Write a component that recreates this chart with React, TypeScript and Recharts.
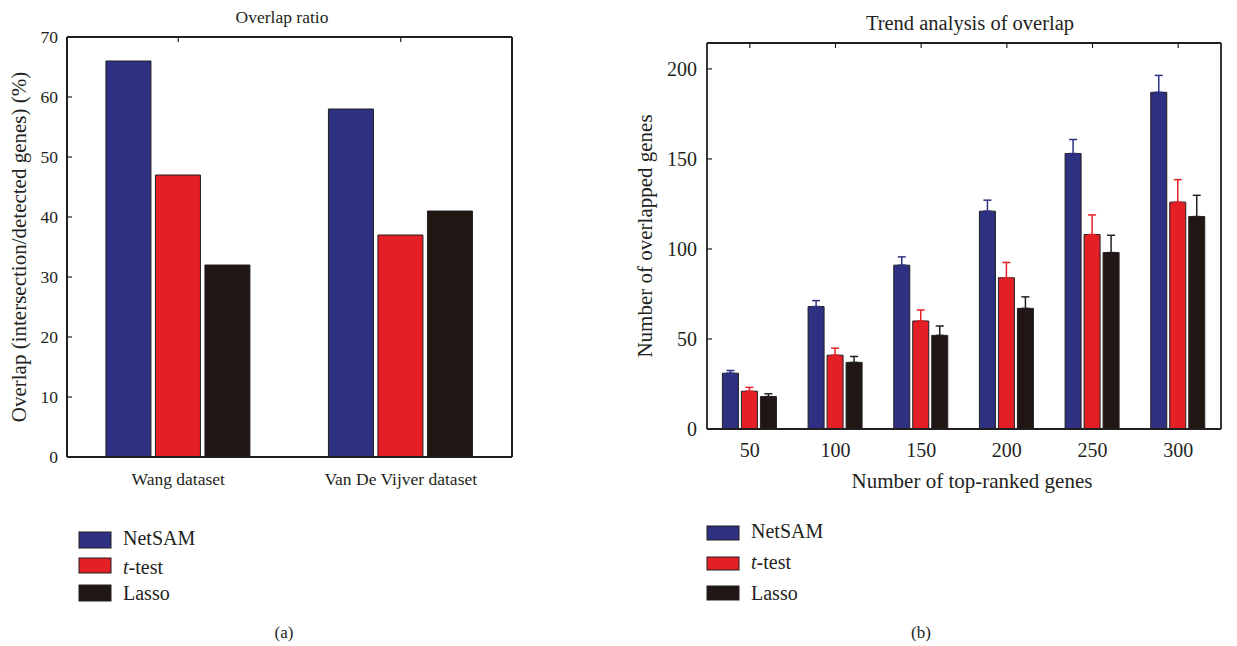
import { BarChart, Bar, XAxis, YAxis, ErrorBar, Label } from "recharts";

const FONT = '"Liberation Serif", "Times New Roman", serif';
const INK = "#231f20";
const NETSAM_COLOR = "#2e3081";
const TTEST_COLOR = "#e41f26";
const LASSO_COLOR = "#201714";
const TICK_LEN = 5;

// (a) overlap ratio
const datasets = ["Wang dataset", "Van De Vijver dataset"];
const ratioNetSAM = [66, 58];
const ratioTTest = [47, 37];
const ratioLasso = [32, 41];
const ratioTicks = [0, 10, 20, 30, 40, 50, 60, 70];

// (b) trend analysis
const topRanked = ["50", "100", "150", "200", "250", "300"];
const trendNetSAM = [31, 68, 91, 121, 153, 187];
const trendNetSAMErr = [1.5, 3.3, 4.6, 6.1, 7.8, 9.4];
const trendTTest = [21, 41, 60, 84, 108, 126];
const trendTTestErr = [2.1, 3.9, 6.1, 8.5, 10.9, 12.5];
const trendLasso = [18, 37, 52, 67, 98, 118];
const trendLassoErr = [1.6, 3.3, 5.2, 6.4, 9.6, 11.8];
const trendTicks = [0, 50, 100, 150, 200];

const ratioData = datasets.map((name, i) => ({
  name,
  NetSAM: ratioNetSAM[i],
  tTest: ratioTTest[i],
  Lasso: ratioLasso[i],
}));

const trendData = topRanked.map((name, i) => ({
  name,
  NetSAM: trendNetSAM[i],
  NetSAMErr: [0, trendNetSAMErr[i]],
  tTest: trendTTest[i],
  tTestErr: [0, trendTTestErr[i]],
  Lasso: trendLasso[i],
  LassoErr: [0, trendLassoErr[i]],
}));

// ticks point inward like a matlab box plot
const leftTick = (fontSize: number, gap: number) => (p: any) => (
  <g>
    <line x1={p.x} y1={p.y} x2={p.x + TICK_LEN} y2={p.y} stroke={INK} strokeWidth={1.2} />
    <text x={p.x - gap} y={p.y} dy="0.34em" textAnchor="end" fontSize={fontSize} fontFamily={FONT} fill={INK}>
      {p.payload.value}
    </text>
  </g>
);
const rightTick = (p: any) => (
  <line x1={p.x} y1={p.y} x2={p.x - TICK_LEN} y2={p.y} stroke={INK} strokeWidth={1.2} />
);
const topTick = (p: any) => (
  <line x1={p.x} y1={p.y} x2={p.x} y2={p.y + TICK_LEN} stroke={INK} strokeWidth={1.2} />
);
const bottomTick = (fontSize: number, drop: number) => (p: any) => (
  <text x={p.x} y={p.y + drop} textAnchor="middle" fontSize={fontSize} fontFamily={FONT} fill={INK}>
    {p.payload.value}
  </text>
);

const frameLine = { stroke: INK, strokeWidth: 2 };

function RatioChart() {
  return (
    <BarChart
      width={540}
      height={500}
      data={ratioData}
      margin={{ top: 36, right: 27, bottom: 0, left: 0 }}
      barCategoryGap="17.5%"
      barGap={4.5}
    >
      <XAxis dataKey="name" height={43} interval={0} tickSize={0} tickMargin={0} tickLine={false} axisLine={frameLine} tick={bottomTick(17.5, 28)} />
      <XAxis xAxisId="top" dataKey="name" orientation="top" height={1} interval={0} tickSize={0} tickMargin={0} tickLine={false} axisLine={frameLine} tick={topTick} />
      <YAxis width={67} domain={[0, 70]} ticks={ratioTicks} interval={0} tickSize={0} tickMargin={0} tickLine={false} axisLine={frameLine} tick={leftTick(17.5, 9)}>
        <Label
          value="Overlap (intersection/detected genes) (%)"
          angle={-90}
          position="insideLeft"
          offset={19}
          style={{ textAnchor: "middle", fontFamily: FONT, fontSize: 21, fill: INK }}
        />
      </YAxis>
      <YAxis yAxisId="right" orientation="right" width={1} domain={[0, 70]} ticks={ratioTicks} interval={0} tickSize={0} tickMargin={0} tickLine={false} axisLine={frameLine} tick={rightTick} />
      <Bar dataKey="NetSAM" fill={NETSAM_COLOR} stroke={INK} strokeWidth={1} isAnimationActive={false} />
      <Bar dataKey="tTest" fill={TTEST_COLOR} stroke={INK} strokeWidth={1} isAnimationActive={false} />
      <Bar dataKey="Lasso" fill={LASSO_COLOR} stroke={INK} strokeWidth={1} isAnimationActive={false} />
    </BarChart>
  );
}

function TrendChart() {
  return (
    <BarChart
      width={617}
      height={500}
      data={trendData}
      margin={{ top: 42, right: 15, bottom: 0, left: 0 }}
      barCategoryGap="18%"
      barGap={3}
    >
      <XAxis dataKey="name" height={71} interval={0} tickSize={0} tickMargin={0} tickLine={false} axisLine={{ stroke: INK, strokeWidth: 1.8 }} tick={bottomTick(20, 28)}>
        <Label
          value="Number of top-ranked genes"
          position="insideBottom"
          offset={12}
          dx={8}
          style={{ fontFamily: FONT, fontSize: 21, fill: INK }}
        />
      </XAxis>
      <XAxis xAxisId="top" dataKey="name" orientation="top" height={1} interval={0} tickSize={0} tickMargin={0} tickLine={false} axisLine={{ stroke: INK, strokeWidth: 1.8 }} tick={topTick} />
      <YAxis width={87} domain={[0, 214.4]} ticks={trendTicks} interval={0} tickSize={0} tickMargin={0} tickLine={false} axisLine={{ stroke: INK, strokeWidth: 1.8 }} tick={leftTick(20, 10)}>
        <Label
          value="Number of overlapped genes"
          angle={-90}
          position="insideLeft"
          offset={25}
          style={{ textAnchor: "middle", fontFamily: FONT, fontSize: 21, fill: INK }}
        />
      </YAxis>
      <YAxis yAxisId="right" orientation="right" width={1} domain={[0, 214.4]} ticks={trendTicks} interval={0} tickSize={0} tickMargin={0} tickLine={false} axisLine={{ stroke: INK, strokeWidth: 1.8 }} tick={rightTick} />
      <Bar dataKey="NetSAM" fill={NETSAM_COLOR} stroke={INK} strokeWidth={1} isAnimationActive={false}>
        <ErrorBar dataKey="NetSAMErr" direction="y" width={4} stroke={NETSAM_COLOR} strokeWidth={1.5} isAnimationActive={false} />
      </Bar>
      <Bar dataKey="tTest" fill={TTEST_COLOR} stroke={INK} strokeWidth={1} isAnimationActive={false}>
        <ErrorBar dataKey="tTestErr" direction="y" width={4} stroke={TTEST_COLOR} strokeWidth={1.5} isAnimationActive={false} />
      </Bar>
      <Bar dataKey="Lasso" fill={LASSO_COLOR} stroke={INK} strokeWidth={1} isAnimationActive={false}>
        <ErrorBar dataKey="LassoErr" direction="y" width={4} stroke={INK} strokeWidth={1.5} isAnimationActive={false} />
      </Bar>
    </BarChart>
  );
}

const legendItems = [
  { key: "NetSAM", color: NETSAM_COLOR },
  { key: "t-test", color: TTEST_COLOR },
  { key: "Lasso", color: LASSO_COLOR },
];

function LegendBlock({ x, rows, textX, fontSize }: { x: number; rows: { top: number; h: number; base: number }[]; textX: number; fontSize: number }) {
  return (
    <g>
      {legendItems.map((item, i) => (
        <g key={item.key}>
          <rect x={x} y={rows[i].top} width={32} height={rows[i].h} fill={item.color} stroke={INK} strokeWidth={1} />
          <text x={textX} y={rows[i].base} fontSize={fontSize} fontFamily={FONT} fill={INK}>
            {item.key === "t-test" ? (
              <>
                <tspan fontStyle="italic">t</tspan>
                <tspan>-test</tspan>
              </>
            ) : (
              item.key
            )}
          </text>
        </g>
      ))}
    </g>
  );
}

export default function App() {
  return (
    <div style={{ position: "absolute", left: 0, top: 0, width: 1237, height: 646, background: "#fff" }}>
      <div style={{ position: "absolute", left: 0, top: 0 }}>
        <RatioChart />
      </div>
      <div style={{ position: "absolute", left: 620, top: 0 }}>
        <TrendChart />
      </div>
      <svg width={1237} height={646} style={{ position: "absolute", left: 0, top: 0, pointerEvents: "none" }}>
        <text x={282} y={23} textAnchor="middle" fontSize={17.5} fontFamily={FONT} fill={INK}>
          Overlap ratio
        </text>
        <text x={970} y={30} textAnchor="middle" fontSize={20.5} fontFamily={FONT} fill={INK}>
          Trend analysis of overlap
        </text>
        <LegendBlock
          x={79}
          textX={123}
          fontSize={20}
          rows={[
            { top: 532, h: 16, base: 545 },
            { top: 558, h: 15, base: 574 },
            { top: 585, h: 16, base: 600 },
          ]}
        />
        <LegendBlock
          x={707}
          textX={751}
          fontSize={20}
          rows={[
            { top: 526, h: 14, base: 538 },
            { top: 557, h: 13, base: 569 },
            { top: 586, h: 14, base: 600 },
          ]}
        />
        <text x={284} y={638} textAnchor="middle" fontSize={17} fontFamily={FONT} fill={INK}>
          (a)
        </text>
        <text x={921} y={638} textAnchor="middle" fontSize={17} fontFamily={FONT} fill={INK}>
          (b)
        </text>
      </svg>
    </div>
  );
}
